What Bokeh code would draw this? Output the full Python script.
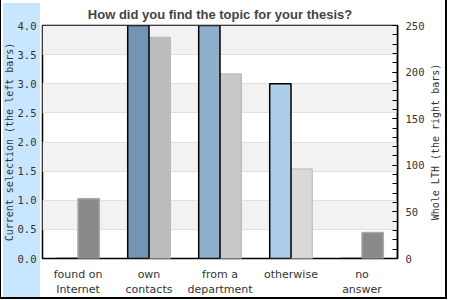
import math
from bokeh.plotting import figure
from bokeh.models import (ColumnDataSource, Range1d, LinearAxis, FixedTicker,
                          SingleIntervalTicker, NumeralTickFormatter, Label)
from bokeh.transform import dodge
from bokeh.embed import file_html
from bokeh.resources import INLINE

categories = ["found on\nInternet", "own\ncontacts", "from a\ndepartment", "otherwise", "no\nanswer"]
current_selection = [0, 4.6, 4.4, 3.0, 0]
whole_lth = [64, 237, 198, 96, 28]
left_ticks = [0.0, 0.5, 1.0, 1.5, 2.0, 2.5, 3.0, 3.5, 4.0]

left_colors = ["#7395b3", "#7395b3", "#8eb0cb", "#abcde9", "#abcde9"]
right_colors = ["#898989", "#bcbcbc", "#c9c9c9", "#d9d9d9", "#898989"]
right_lines = ["#a8a8a8", "#bcbcbc", "#bdbdbd", "#c6c6c6", "#a8a8a8"]

src = ColumnDataSource(dict(cat=categories, cur=current_selection, whole=whole_lth,
                            lc=left_colors, rc=right_colors, rl=right_lines))

p = figure(width=450, height=300, x_range=categories, y_range=Range1d(0, 4),
           output_backend="svg", toolbar_location=None,
           min_border_left=40, min_border_right=53, min_border_top=25, min_border_bottom=42,
           background_fill_color="white", border_fill_color=None)
p.extra_y_ranges = {"right": Range1d(0, 250)}

# page background: left light-blue strip and outer border lines
p.styles = {
    "background": (
        "linear-gradient(#000,#000) 0px 0px / 1px 299px no-repeat, "
        "linear-gradient(#000,#000) 0px 297px / 447px 2px no-repeat, "
        "linear-gradient(#000,#000) 445px 0px / 2px 299px no-repeat, "
        "linear-gradient(#c8e6ff,#c8e6ff) 3px 3px / 37px 294px no-repeat, "
        "#ffffff"
    )
}

p.vbar(x=dodge("cat", 0.15, range=p.x_range), top="whole", width=0.3, source=src,
       y_range_name="right", fill_color="rc", line_color="rl", line_width=1.5)
p.vbar(x=dodge("cat", -0.15, range=p.x_range), top="cur", width=0.3, source=src,
       fill_color="lc", line_color="black", line_width=1.5)

p.outline_line_color = "black"
p.outline_line_width = 1.5

p.xgrid.grid_line_color = None
p.ygrid.ticker = FixedTicker(ticks=left_ticks[1:])
p.ygrid.grid_line_color = "#e0e0e0"
p.ygrid.band_fill_color = "#f2f2f2"
p.ygrid.band_fill_alpha = 1

p.title.text = "How did you find the topic for your thesis?"
p.title.text_font = "Liberation Sans"
p.title.text_font_size = "13px"
p.title.text_font_style = "bold"
p.title.text_color = "#444444"
p.title.align = "center"
p.title.standoff = 8
p.title.offset = 10

xa = p.xaxis[0]
xa.axis_line_color = None
xa.major_tick_line_color = None
xa.minor_tick_line_color = None
xa.major_tick_out = 0
xa.major_tick_in = 0
xa.minor_tick_out = 0
xa.major_label_text_font = "DejaVu Sans"
xa.major_label_text_font_size = "11px"
xa.major_label_text_color = "#333333"
xa.major_label_standoff = 9

ya = p.yaxis[0]
ya.ticker = FixedTicker(ticks=left_ticks)
ya.formatter = NumeralTickFormatter(format="0.0")
ya.axis_line_color = None
ya.major_tick_line_color = None
ya.minor_tick_line_color = None
ya.major_tick_out = 0
ya.major_tick_in = 0
ya.minor_tick_out = 0
ya.major_label_text_font = "DejaVu Sans Mono"
ya.major_label_text_font_size = "10.5px"
ya.major_label_text_color = "#333333"
ya.major_label_standoff = 6
ya.axis_label = "Current selection (the left bars)"
ya.axis_label_text_font = "DejaVu Sans Mono"
ya.axis_label_text_font_size = "10px"
ya.axis_label_text_font_style = "normal"
ya.axis_label_text_color = "#333333"
ya.axis_label_standoff = 0

ra = LinearAxis(y_range_name="right", ticker=SingleIntervalTicker(interval=50, num_minor_ticks=5))
ra.axis_line_color = "black"
ra.axis_line_width = 1.5
ra.major_tick_in = 5
ra.major_tick_out = 0
ra.minor_tick_in = 5
ra.minor_tick_out = 0
ra.major_label_text_font = "DejaVu Sans Mono"
ra.major_label_text_font_size = "10.5px"
ra.major_label_text_color = "#333333"
ra.major_label_standoff = 8
p.add_layout(ra, "right")

# right axis title, reading bottom-to-top like the reference (in a side panel, so unclipped)
right_title = Label(x=len(categories), y=125, y_range_name="right", x_offset=38,
                    text="Whole LTH (the right bars)", angle=math.pi / 2,
                    text_align="center", text_baseline="middle",
                    text_font="DejaVu Sans Mono", text_font_size="10px",
                    text_color="#333333")
p.add_layout(right_title, "right")

open("out.html", "w").write(file_html(p, INLINE))
